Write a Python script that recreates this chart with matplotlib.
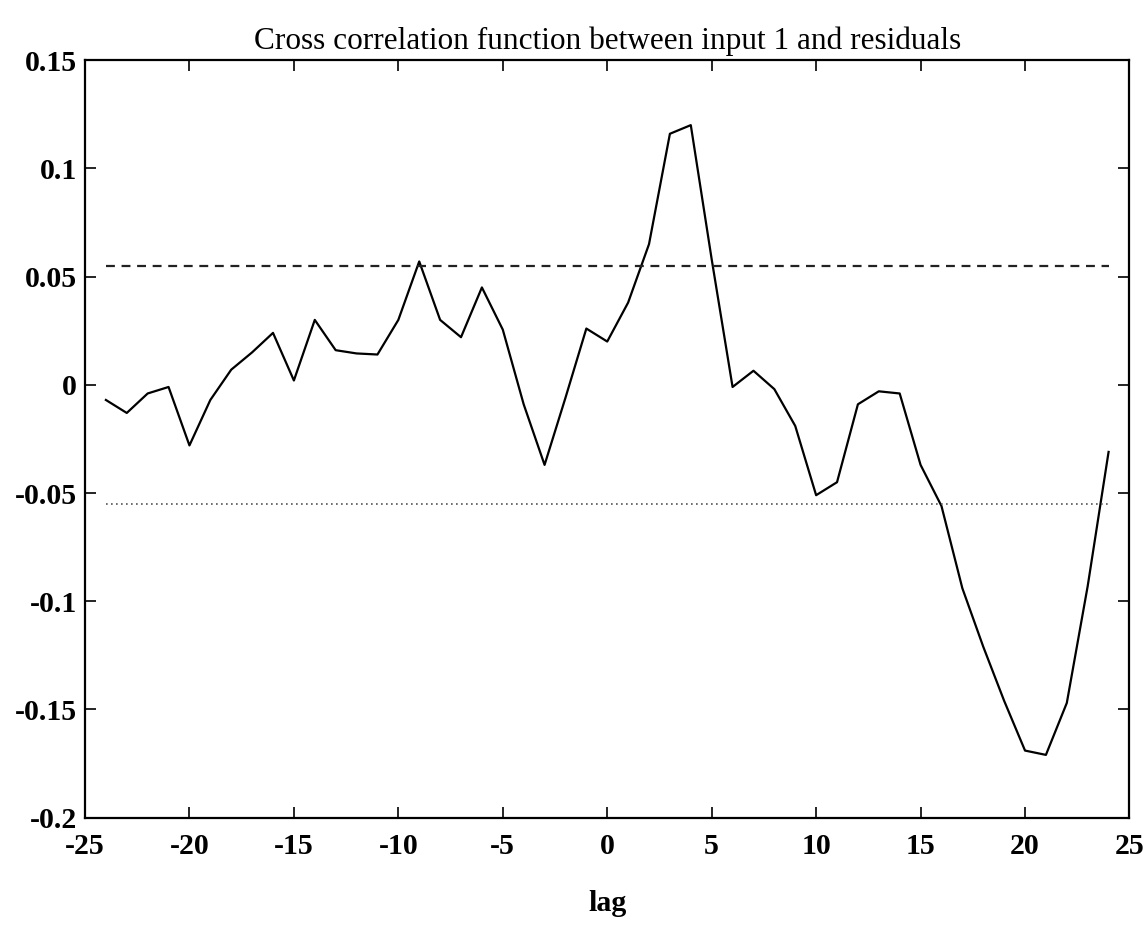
import matplotlib
matplotlib.use("Agg")
import matplotlib.pyplot as plt
import numpy as np

lags = list(range(-24, 25))
ccf = [-0.007, -0.013, -0.004, -0.001, -0.028, -0.007, 0.007, 0.015, 0.024, 0.002,
       0.030, 0.016, 0.0145, 0.014, 0.030, 0.057, 0.030, 0.022, 0.045, 0.0255,
       -0.009, -0.037, -0.006, 0.026, 0.020, 0.038, 0.065, 0.116, 0.120, 0.058,
       -0.001, 0.0065, -0.002, -0.019, -0.051, -0.045, -0.009, -0.003, -0.004, -0.037,
       -0.056, -0.094, -0.121, -0.146, -0.169, -0.171, -0.147, -0.093, -0.031]
conf_upper = [0.055, 0.055]
conf_lower = [-0.055, -0.055]
conf_lags = [-24, 24]
xticks = [-25, -20, -15, -10, -5, 0, 5, 10, 15, 20, 25]
yticks = [-0.2, -0.15, -0.1, -0.05, 0, 0.05, 0.1, 0.15]
ytick_labels = ["-0.2", "-0.15", "-0.1", "-0.05", "0", "0.05", "0.1", "0.15"]
xtick_labels = ["-25", "-20", "-15", "-10", "-5", "0", "5", "10", "15", "20", "25"]

plt.rcParams['font.family'] = ['Liberation Serif', 'DejaVu Serif']

fig = plt.figure(figsize=(11.44, 9.26), dpi=100)
ax = fig.add_axes([0.0743, 0.117, 0.913, 0.818])

ax.plot(lags, ccf, color='black', lw=1.6)
ax.plot(conf_lags, conf_upper, color='#222222', lw=1.6, linestyle=(0, (4, 3)))
ax.plot(conf_lags, conf_lower, color='#555555', lw=1.2, linestyle=(0, (1, 2)))

ax.set_xlim(-25, 25)
ax.set_ylim(-0.2, 0.15)
ax.set_xticks(xticks)
ax.set_xticklabels(xtick_labels, fontweight='bold')
ax.set_yticks(yticks)
ax.set_yticklabels(ytick_labels, fontweight='bold')
ax.tick_params(direction='in', length=8, width=1.2, top=True, right=True,
               labelsize=21.5)
ax.tick_params(axis='x', pad=11)
ax.tick_params(axis='y', pad=6)
for s in ax.spines.values():
    s.set_linewidth(1.6)

ax.set_title("Cross correlation function between input 1 and residuals",
             fontsize=22.5, pad=8)
ax.set_xlabel("lag", fontsize=21.5, fontweight='bold', labelpad=22)

fig.savefig("out.png", dpi=100)
